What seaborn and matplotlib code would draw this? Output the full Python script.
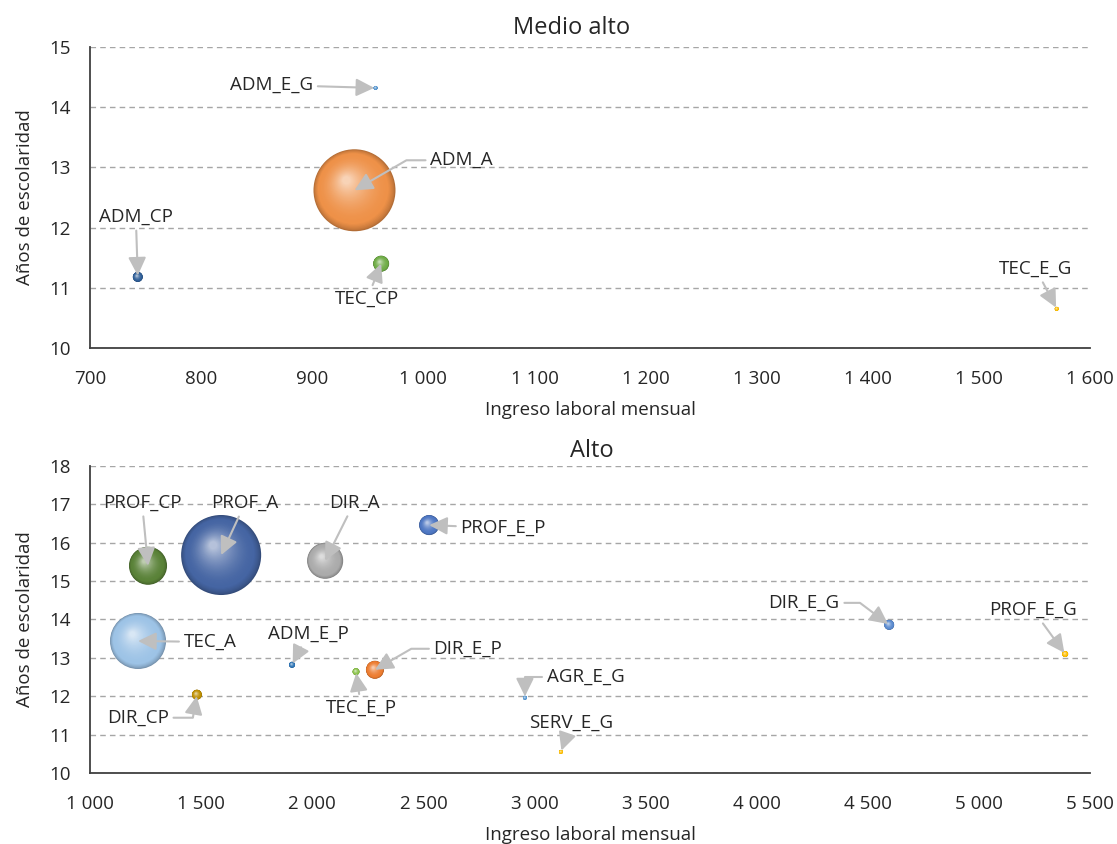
import numpy as np
import pandas as pd
import matplotlib
matplotlib.use("Agg")
import matplotlib.pyplot as plt
from matplotlib.ticker import FuncFormatter, MultipleLocator
from matplotlib.colors import to_rgb
import seaborn as sns

# ---- Data: nivel "Medio alto" ----
ma_grupo = ["ADM_E_G", "ADM_A", "ADM_CP", "TEC_CP", "TEC_E_G"]
ma_ingreso = [957, 938, 743, 962, 1570]
ma_escolaridad = [14.32, 12.62, 11.18, 11.40, 10.65]
ma_ocupados = [0.4, 168.0, 2.5, 6.4, 0.4]
ma_color = ["#5B9BD5", "#EE9148", "#2F5F98", "#70AD47", "#FFC000"]

# ---- Data: nivel "Alto" ----
al_grupo = ["PROF_CP", "PROF_A", "DIR_A", "PROF_E_P", "TEC_A", "ADM_E_P", "TEC_E_P",
            "DIR_E_P", "DIR_CP", "AGR_E_G", "SERV_E_G", "DIR_E_G", "PROF_E_G"]
al_ingreso = [1261, 1590, 2058, 2526, 1216, 1909, 2197, 2282, 1481, 2957, 3119, 4596, 5388]
al_escolaridad = [15.40, 15.68, 15.53, 16.46, 13.44, 12.82, 12.64, 12.69, 12.04, 11.96,
                  10.55, 13.86, 13.10]
al_ocupados = [36.1, 160.0, 32.4, 10.0, 78.4, 0.9, 1.2, 8.1, 2.5, 0.4, 0.4, 2.5, 0.9]
al_color = ["#5A8238", "#4565A3", "#ABABAB", "#4F78C4", "#9DC3E6", "#2E75B6", "#8BC34A",
            "#ED7D31", "#BF9000", "#5B9BD5", "#FFC000", "#5B8BD0", "#FFC000"]

x_ticks_ma = list(range(700, 1601, 100))
x_ticks_al = list(range(1000, 5501, 500))

# Label placement: (dx px, dy px, connection style)
ma_labels = {
    "ADM_E_G": (-104, 3, "arc3"),
    "ADM_A": (107, 30, "angle,angleA=0,angleB=30,rad=0"),
    "ADM_CP": (-2, 60, "arc3"),
    "TEC_CP": (-14, -35, "arc3"),
    "TEC_E_G": (-21, 40, "arc3"),
}
al_labels = {
    "PROF_CP": (-6, 63, "arc3"),
    "PROF_A": (24, 52, "arc3"),
    "DIR_A": (29, 58, "arc3"),
    "PROF_E_P": (74, -3, "arc3"),
    "TEC_A": (72, -1, "arc3"),
    "ADM_E_P": (16, 31, "arc3"),
    "TEC_E_P": (5, -36, "arc3"),
    "DIR_E_P": (93, 21, "angle,angleA=0,angleB=30,rad=0"),
    "DIR_CP": (-59, -23, "angle,angleA=0,angleB=80,rad=0"),
    "AGR_E_G": (61, 21, "angle,angleA=0,angleB=90,rad=0"),
    "SERV_E_G": (10, 29, "arc3"),
    "DIR_E_G": (-85, 22, "angle,angleA=0,angleB=-37,rad=0"),
    "PROF_E_G": (-32, 44, "arc3"),
}

DPI = 100
FS = 13.5
sns.set_theme(style="white")
plt.rcParams["font.family"] = ["Open Sans", "DejaVu Sans"]
TEXT = "#262626"

fig = plt.figure(figsize=(11.17, 8.44), dpi=DPI)
ax_top = fig.add_axes([0.0806, 0.5877, 0.8953, 0.3566])
ax_bot = fig.add_axes([0.0806, 0.0841, 0.8953, 0.3638])

PX_PER_SQRT = 41 / np.sqrt(168.0)  # bubble radius in px per sqrt(value)


def blend(a, b, t):
    a, b = np.array(a), np.array(b)
    return tuple(np.clip(a + (b - a) * t, 0, 1))


def thousands(v, _):
    return f"{v:,.0f}".replace(",", "\u00a0")


def setup_axes(ax, xlim, ylim, xticks, title, title_x, title_y):
    ax.set_xlim(*xlim)
    ax.set_ylim(*ylim)
    ax.set_xticks(xticks)
    ax.yaxis.set_major_locator(MultipleLocator(1))
    ax.xaxis.set_major_formatter(FuncFormatter(thousands))
    ax.grid(axis="y", color="#A6A6A6", linestyle=(0, (4, 3)), linewidth=1.0)
    ax.grid(axis="x", visible=False)
    ax.set_axisbelow(True)
    for s in ("top", "right"):
        ax.spines[s].set_visible(False)
    for s in ("left", "bottom"):
        ax.spines[s].set_color("#404040")
        ax.spines[s].set_linewidth(1.3)
    ax.tick_params(axis="both", length=0, labelsize=FS, colors=TEXT)
    ax.tick_params(axis="x", pad=16)
    ax.tick_params(axis="y", pad=14)
    ax.set_xlabel("Ingreso laboral mensual", fontsize=FS, color=TEXT, labelpad=9)
    ax.set_ylabel("Años de escolaridad", fontsize=FS, color=TEXT, labelpad=11)
    ax.text(title_x, title_y, title, transform=ax.transAxes, ha="center", va="center",
            fontsize=17, color=TEXT)


def draw_bubbles(ax, names, xs, ys, vals, colors, labels):
    radii = PX_PER_SQRT * np.sqrt(np.array(vals))
    pts = ax.transData.transform(np.column_stack([xs, ys]))
    n_layers = 40
    for k in range(n_layers):
        t = k / (n_layers - 1)
        f = 1 - 0.9 * t
        shift = (1 - f) * radii[:, None] * np.array([-0.22, 0.27])
        centers = ax.transData.inverted().transform(pts + shift)
        lay_cols = {}
        lay_sizes = {}
        for name, c, r in zip(names, colors, radii):
            base = to_rgb(c)
            dark = blend(base, (0, 0, 0), 0.25)
            light = blend(base, (1, 1, 1), 0.6)
            if t < 0.15:
                col = blend(dark, base, (t / 0.15) ** 0.7)
            else:
                col = blend(base, light, ((t - 0.15) / 0.85) ** 1.8)
            lay_cols[name] = col
            lay_sizes[name] = (2 * r * f * 72 / DPI) ** 2
        df = pd.DataFrame({"x": centers[:, 0], "y": centers[:, 1], "g": names})
        sns.scatterplot(data=df, x="x", y="y", hue="g", palette=lay_cols, size="g",
                        sizes=lay_sizes, linewidth=0, legend=False, ax=ax,
                        zorder=3 + k * 0.01)
    for name, x, y, r in zip(names, xs, ys, radii):
        dx, dy, conn = labels[name]
        ax.annotate(name, xy=(x, y), xytext=(dx, dy), textcoords="offset pixels",
                    ha="center", va="center", fontsize=FS, color=TEXT, zorder=10,
                    arrowprops=dict(arrowstyle="-|>,head_length=0.55,head_width=0.27",
                                    mutation_scale=20, color="#BFBFBF", lw=1.5,
                                    shrinkA=1, shrinkB=0 if r > 8 else 1,
                                    connectionstyle=conn))


setup_axes(ax_top, (700, 1600), (10, 15), x_ticks_ma, "Medio alto", 0.482, 1.063)
setup_axes(ax_bot, (1000, 5500), (10, 18), x_ticks_al, "Alto", 0.502, 1.05)

draw_bubbles(ax_top, ma_grupo, ma_ingreso, ma_escolaridad, ma_ocupados, ma_color, ma_labels)
draw_bubbles(ax_bot, al_grupo, al_ingreso, al_escolaridad, al_ocupados, al_color, al_labels)

fig.savefig("out.png", dpi=DPI)
